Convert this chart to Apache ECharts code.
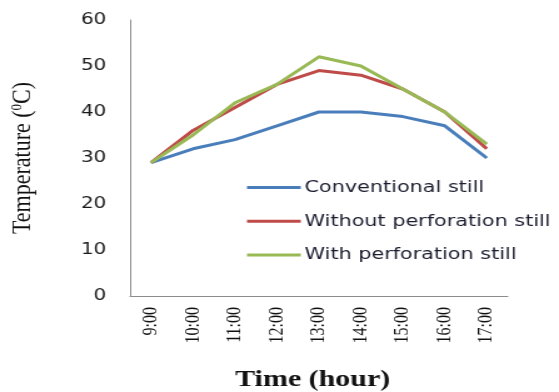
<!DOCTYPE html>
<html>
<head>
<meta charset="utf-8">
<script src="https://cdn.jsdelivr.net/npm/echarts@6/dist/echarts.min.js"></script>
<style>
  html, body { margin: 0; padding: 0; background: #ffffff; overflow: hidden; }
  /* The chart is laid out on a narrower canvas and widened to the page,
     which gives the broad, horizontally stretched lettering of the figure. */
  #chart { width: 447px; height: 392px; transform: scaleX(1.2506); transform-origin: 0 0; }
</style>
</head>
<body>
<div id="chart"></div>
<script>
// Hourly readings of the three stills
const hours = ['9:00', '10:00', '11:00', '12:00', '13:00', '14:00', '15:00', '16:00', '17:00'];
const conventional = [29, 32, 34, 37, 40, 40, 39, 37, 30];
const withoutPerforation = [29, 36, 41, 46, 49, 48, 45, 40, 32];
const withPerforation = [29, 35, 42, 46, 52, 50, 45, 40, 33];
const yTicks = [0, 10, 20, 30, 40, 50, 60];

const seriesNames = ['Conventional still', 'Without perforation still', 'With perforation still'];
const seriesColors = ['#4a7ebb', '#be4b48', '#98b954'];
const seriesData = [conventional, withoutPerforation, withPerforation];

const chart = echarts.init(document.getElementById('chart'));

chart.setOption({
  animation: false,
  grid: { left: 104, right: 41, top: 20, bottom: 96, outerBoundsMode: 'none', containLabel: false },
  legend: {
    orient: 'vertical',
    left: 197.5,
    top: 179,
    padding: 0,
    icon: 'rect',
    itemWidth: 43,
    itemHeight: 3,
    itemGap: 16.8,
    textStyle: { fontFamily: 'DejaVu Sans', fontSize: 16.6, color: '#1c1c30', padding: [0, 0, 0, -2] },
    data: seriesNames
  },
  xAxis: {
    type: 'category',
    data: hours,
    boundaryGap: true,
    axisLine: { lineStyle: { color: '#8c8c8c', width: 1 } },
    axisTick: { show: false },
    axisLabel: {
      rotate: 90,
      margin: 11,
      fontFamily: 'Liberation Serif',
      fontSize: 16,
      color: '#111'
    },
    name: 'Time (hour)',
    nameLocation: 'middle',
    nameGap: 72,
    nameTextStyle: {
      fontFamily: 'Liberation Serif',
      fontWeight: 'bold',
      fontSize: 24,
      color: '#111',
      padding: [0, 10, 0, 0]
    }
  },
  yAxis: {
    type: 'value',
    min: yTicks[0],
    max: yTicks[yTicks.length - 1],
    interval: 10,
    splitLine: { show: false },
    axisTick: { show: false },
    axisLine: { show: true, lineStyle: { color: '#8c8c8c', width: 1 } },
    axisLabel: {
      margin: 19,
      fontFamily: 'DejaVu Sans',
      fontSize: 16,
      color: '#1a1a1a'
    },
    name: 'Temperature ({sup|0}C)',
    nameLocation: 'middle',
    nameGap: 75,
    nameTextStyle: {
      fontFamily: 'Liberation Serif',
      fontSize: 22,
      color: '#111',
      rich: {
        sup: { fontFamily: 'Liberation Serif', fontSize: 13, color: '#111', verticalAlign: 'top', padding: [0, 0, 9, 0] }
      }
    }
  },
  series: seriesNames.map((name, i) => ({
    name: name,
    type: 'line',
    data: seriesData[i],
    symbol: 'none',
    lineStyle: { color: seriesColors[i], width: 3 },
    itemStyle: { color: seriesColors[i] }
  }))
});
</script>
</body>
</html>
